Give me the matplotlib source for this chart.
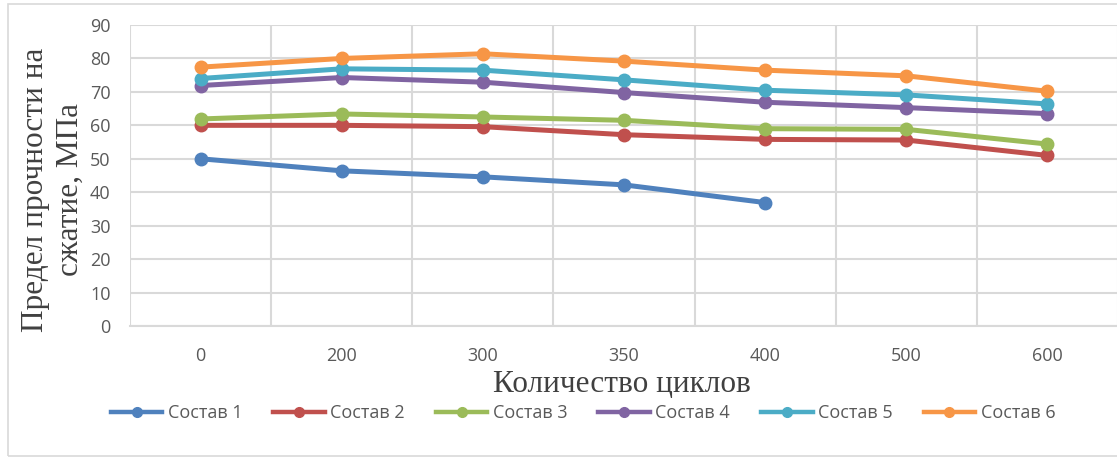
import matplotlib
matplotlib.use("Agg")
import matplotlib.pyplot as plt
from matplotlib.patches import Rectangle
from matplotlib.lines import Line2D

cycles = ["0", "200", "300", "350", "400", "500", "600"]
series_names = ["Состав 1", "Состав 2", "Состав 3", "Состав 4", "Состав 5", "Состав 6"]
sostav1 = [50.0, 46.4, 44.6, 42.2, 36.9]
sostav2 = [60.0, 60.0, 59.6, 57.2, 55.8, 55.6, 51.0]
sostav3 = [61.9, 63.4, 62.5, 61.5, 59.0, 58.8, 54.4]
sostav4 = [71.9, 74.3, 72.9, 69.8, 66.9, 65.3, 63.5]
sostav5 = [74.0, 76.9, 76.5, 73.6, 70.5, 69.1, 66.4]
sostav6 = [77.4, 80.0, 81.4, 79.2, 76.5, 74.8, 70.2]
colors = ["#4F81BD", "#C0504D", "#9BBB59", "#8064A2", "#4BACC6", "#F79646"]

sans = "Open Sans"
serif = "Liberation Serif"
text_gray = "#595959"
grid_gray = "#D9D9D9"

W, H = 1117, 459
fig = plt.figure(figsize=(W / 100, H / 100), dpi=100)
fig.patch.set_facecolor("white")
fig.add_artist(Rectangle((8 / W, 1 - 456 / H), (W + 5 - 8) / W, (456 - 4) / H,
                         transform=fig.transFigure, fill=False,
                         edgecolor=grid_gray, linewidth=1.2))

left, right = 130 / W, 1118 / W
top, bottom = 1 - 25 / H, 1 - 326 / H
ax = fig.add_axes([left, bottom, right - left, top - bottom])

all_series = [sostav1, sostav2, sostav3, sostav4, sostav5, sostav6]
for name, vals, c in zip(series_names, all_series, colors):
    ax.plot(range(len(vals)), vals, color=c, linewidth=3.6, marker="o",
            markersize=9, label=name, solid_capstyle="round", zorder=3)

ax.set_xlim(-0.5, len(cycles) - 0.5)
ax.set_ylim(0, 90)
ax.set_yticks(range(0, 91, 10))
ax.set_xticks(range(len(cycles)))
ax.set_xticklabels(cycles)
ax.set_xticks([i + 0.5 for i in range(-1, len(cycles))], minor=True)
ax.grid(True, which="major", axis="y", color=grid_gray, linewidth=1.5, zorder=0)
ax.grid(True, which="minor", axis="x", color=grid_gray, linewidth=1.5, zorder=0)
ax.tick_params(axis="both", which="both", length=0)
ax.tick_params(axis="x", which="major", pad=15)
ax.tick_params(axis="y", pad=14)
for lab in ax.get_xticklabels() + ax.get_yticklabels():
    lab.set_fontfamily(sans)
    lab.set_fontsize(13)
    lab.set_color(text_gray)
for s in ["top", "right", "left"]:
    ax.spines[s].set_visible(False)
ax.spines["bottom"].set_color(grid_gray)
ax.spines["bottom"].set_linewidth(1.5)

fig.text(53 / W, 1 - 190 / H, "Предел прочности на\nсжатие, МПа", rotation=90,
         ha="center", va="center", fontfamily=serif, fontsize=22.5,
         color="#404040", linespacing=1.25)
fig.text(622 / W, 1 - 385 / H, "Количество циклов", ha="center", va="center",
         fontfamily=serif, fontsize=22.5, color="#404040")

handles = [Line2D([], [], color=c, linewidth=3.2, marker="o", markersize=7)
           for c in colors]
leg = fig.legend(handles, series_names, loc="center",
                 bbox_to_anchor=(583 / W, 1 - 413 / H), ncol=6,
                 frameon=False, prop={"family": sans, "size": 13},
                 handlelength=2.85, columnspacing=1.72, handletextpad=0.3)
for t in leg.get_texts():
    t.set_color(text_gray)

fig.savefig("out.png", dpi=100, facecolor="white")
